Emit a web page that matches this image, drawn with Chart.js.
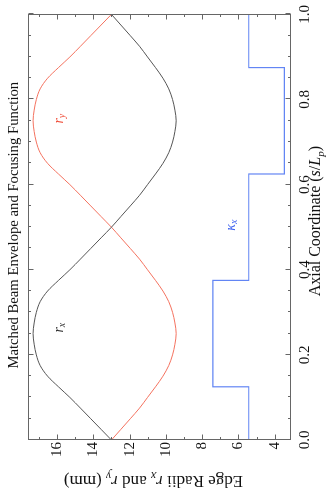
<!DOCTYPE html>
<html>
<head>
<meta charset="utf-8">
<script src="https://cdn.jsdelivr.net/npm/chart.js@4.4.1/dist/chart.umd.min.js"></script>
<style>
html, body { margin: 0; padding: 0; background: #fff; overflow: hidden; }
/* the plot is drawn landscape and turned a quarter turn, like the original */
#wrap { position: absolute; left: 0; top: 0; width: 489px; height: 326px;
        transform-origin: 0 0; transform: translate(0, 489px) rotate(-90deg); }
</style>
</head>
<body>
<div id="wrap"><canvas id="c" width="489" height="326"></canvas></div>
<script>
// axial coordinate s/Lp where the curves were read
var sPos = [0, 0.025, 0.05, 0.075, 0.1, 0.125, 0.15, 0.175, 0.2, 0.225,
            0.25, 0.275, 0.3, 0.325, 0.35, 0.375, 0.4, 0.425, 0.45, 0.475,
            0.5, 0.525, 0.55, 0.575, 0.6, 0.625, 0.65, 0.675, 0.7, 0.725,
            0.75, 0.775, 0.8, 0.825, 0.85, 0.875, 0.9, 0.925, 0.95, 0.975, 1.0];

// edge radius r_x (mm)
var rxVals = [13.00, 13.57, 14.14, 14.71, 15.29, 15.92, 16.52, 16.93, 17.14, 17.26,
              17.32, 17.26, 17.14, 16.93, 16.52, 15.92, 15.29, 14.71, 14.14, 13.57,
              13.00, 12.48, 11.96, 11.45, 11.01, 10.57, 10.16, 9.84, 9.63, 9.50,
              9.43, 9.50, 9.63, 9.84, 10.16, 10.57, 11.01, 11.45, 11.96, 12.48, 13.00];

// edge radius r_y (mm)
var ryVals = [13.00, 12.48, 11.96, 11.45, 11.01, 10.57, 10.16, 9.84, 9.63, 9.50,
              9.43, 9.50, 9.63, 9.84, 10.16, 10.57, 11.01, 11.45, 11.96, 12.48,
              13.00, 13.57, 14.14, 14.71, 15.29, 15.92, 16.52, 16.93, 17.14, 17.26,
              17.32, 17.26, 17.14, 16.93, 16.52, 15.92, 15.29, 14.71, 14.14, 13.57, 13.00];

// focusing function kappa_x (plotted offset, steps)
var kappaS = [0, 0.125, 0.375, 0.625, 0.875, 1.0];
var kappaVals = [5.43, 7.41, 5.43, 3.47, 5.43, 5.43];

var axialTicks = [0, 0.2, 0.4, 0.6, 0.8, 1.0];
var radiusTicks = [4, 6, 8, 10, 12, 14, 16];

var serif = "'Liberation Serif', 'Times New Roman', serif";

function pts(xs, ys) {
    return xs.map(function (x, i) { return { x: x, y: ys[i] }; });
}

// runs: [text, italic, subscript]
function runFont(r, size) {
    return (r[1] ? 'italic ' : '') + (r[2] ? Math.round(size * 0.7) : size) + 'px ' + serif;
}
function drawRuns(ctx, runs, x, y, size) {
    var w = 0;
    runs.forEach(function (r) { ctx.font = runFont(r, size); w += ctx.measureText(r[0]).width; });
    var cx = x - w / 2;
    runs.forEach(function (r) {
        ctx.font = runFont(r, size);
        ctx.fillText(r[0], cx, y + (r[2] ? size * 0.25 : 0));
        cx += ctx.measureText(r[0]).width;
    });
}

var frame = {
    id: 'frame',
    afterDraw: function (chart) {
        var ctx = chart.ctx, a = chart.chartArea;
        var xs = chart.scales.x, ys = chart.scales.y;
        var L = Math.round(a.left) + 0.5, R = Math.round(a.right) - 0.5;
        var T = Math.round(a.top) + 0.5, B = Math.round(a.bottom) - 0.5;
        ctx.save();
        ctx.strokeStyle = '#666';
        ctx.lineWidth = 1;
        ctx.strokeRect(L, T, R - L, B - T);
        ctx.beginPath();
        // inward ticks, minor every 0.05 / 1 mm
        for (var i = 0; i <= 20; i++) {
            var len = (i % 4 === 0) ? 5 : 2.5;
            var px = Math.round(xs.getPixelForValue(i * 0.05)) + 0.5;
            ctx.moveTo(px, B); ctx.lineTo(px, B - len);
            ctx.moveTo(px, T); ctx.lineTo(px, T + len);
        }
        for (var r = 4; r <= 17; r++) {
            var len2 = (r % 2 === 0) ? 5 : 2.5;
            var py = Math.round(ys.getPixelForValue(r)) + 0.5;
            ctx.moveTo(L, py); ctx.lineTo(L + len2, py);
            ctx.moveTo(R, py); ctx.lineTo(R - len2, py);
        }
        ctx.stroke();

        ctx.fillStyle = '#111';
        ctx.textBaseline = 'alphabetic';
        // plot title
        drawRuns(ctx, [['Matched Beam Envelope and Focusing Function', false]],
                 (a.left + a.right) / 2 + 2, 17.5, 14.7);
        // axis titles
        drawRuns(ctx, [['Axial Coordinate (', false], ['s', true], ['/', false], ['L', true],
                       ['p', true, true], [')', false]],
                 (a.left + a.right) / 2 + 6, 320, 16);
        ctx.save();
        ctx.translate(13, (a.top + a.bottom) / 2 - 6);
        ctx.rotate(-Math.PI / 2);
        drawRuns(ctx, [['Edge Radii ', false], ['r', true], ['x', true, true], [' and ', false],
                       ['r', true], ['y', true, true], [' (mm)', false]], 0, 0, 17);
        ctx.restore();

        // curve labels
        ctx.textBaseline = 'middle';
        ctx.fillStyle = '#333';
        drawRuns(ctx, [['r', true], ['x', true, true]], xs.getPixelForValue(0.264), ys.getPixelForValue(15.9), 14);
        ctx.fillStyle = '#f0503c';
        drawRuns(ctx, [['r', true], ['y', true, true]], xs.getPixelForValue(0.755), ys.getPixelForValue(15.9), 14);
        ctx.fillStyle = '#3f63f0';
        drawRuns(ctx, [['\u03ba', true], ['x', true, true]], xs.getPixelForValue(0.505), ys.getPixelForValue(6.39), 14);
        ctx.restore();
    }
};

new Chart(document.getElementById('c'), {
    type: 'line',
    data: {
        datasets: [
            {
                label: 'r_x',
                data: pts(sPos, rxVals),
                borderColor: '#555555',
                borderWidth: 1,
                pointRadius: 0,
                cubicInterpolationMode: 'monotone'
            },
            {
                label: 'r_y',
                data: pts(sPos, ryVals),
                borderColor: '#f4725f',
                borderWidth: 1,
                pointRadius: 0,
                cubicInterpolationMode: 'monotone'
            },
            {
                label: 'kappa_x',
                data: pts(kappaS, kappaVals),
                borderColor: '#6285f4',
                borderWidth: 1.2,
                pointRadius: 0,
                stepped: true
            }
        ]
    },
    options: {
        responsive: false,
        animation: false,
        devicePixelRatio: 1,
        layout: { padding: { left: 0, right: 12, top: 28, bottom: 0 } },
        plugins: {
            legend: { display: false },
            tooltip: { enabled: false },
            title: { display: false }
        },
        scales: {
            x: {
                type: 'linear',
                min: 0,
                max: 1,
                afterBuildTicks: function (s) { s.ticks = axialTicks.map(function (v) { return { value: v }; }); },
                afterFit: function (s) { s.height = 35; },
                grid: { display: false, drawTicks: false },
                border: { display: false },
                ticks: {
                    color: '#111',
                    font: { family: serif, size: 15 },
                    padding: 5,
                    maxRotation: 0,
                    callback: function (v) { return v.toFixed(1); }
                }
            },
            y: {
                type: 'linear',
                min: 3.1,
                max: 17.6,
                afterBuildTicks: function (s) { s.ticks = radiusTicks.map(function (v) { return { value: v }; }); },
                afterFit: function (s) { s.width = 49; },
                grid: { display: false, drawTicks: false },
                border: { display: false },
                ticks: {
                    color: '#111',
                    font: { family: serif, size: 15 },
                    padding: 2,
                    callback: function (v) { return String(v); }
                }
            }
        }
    },
    plugins: [frame]
});
</script>
</body>
</html>
